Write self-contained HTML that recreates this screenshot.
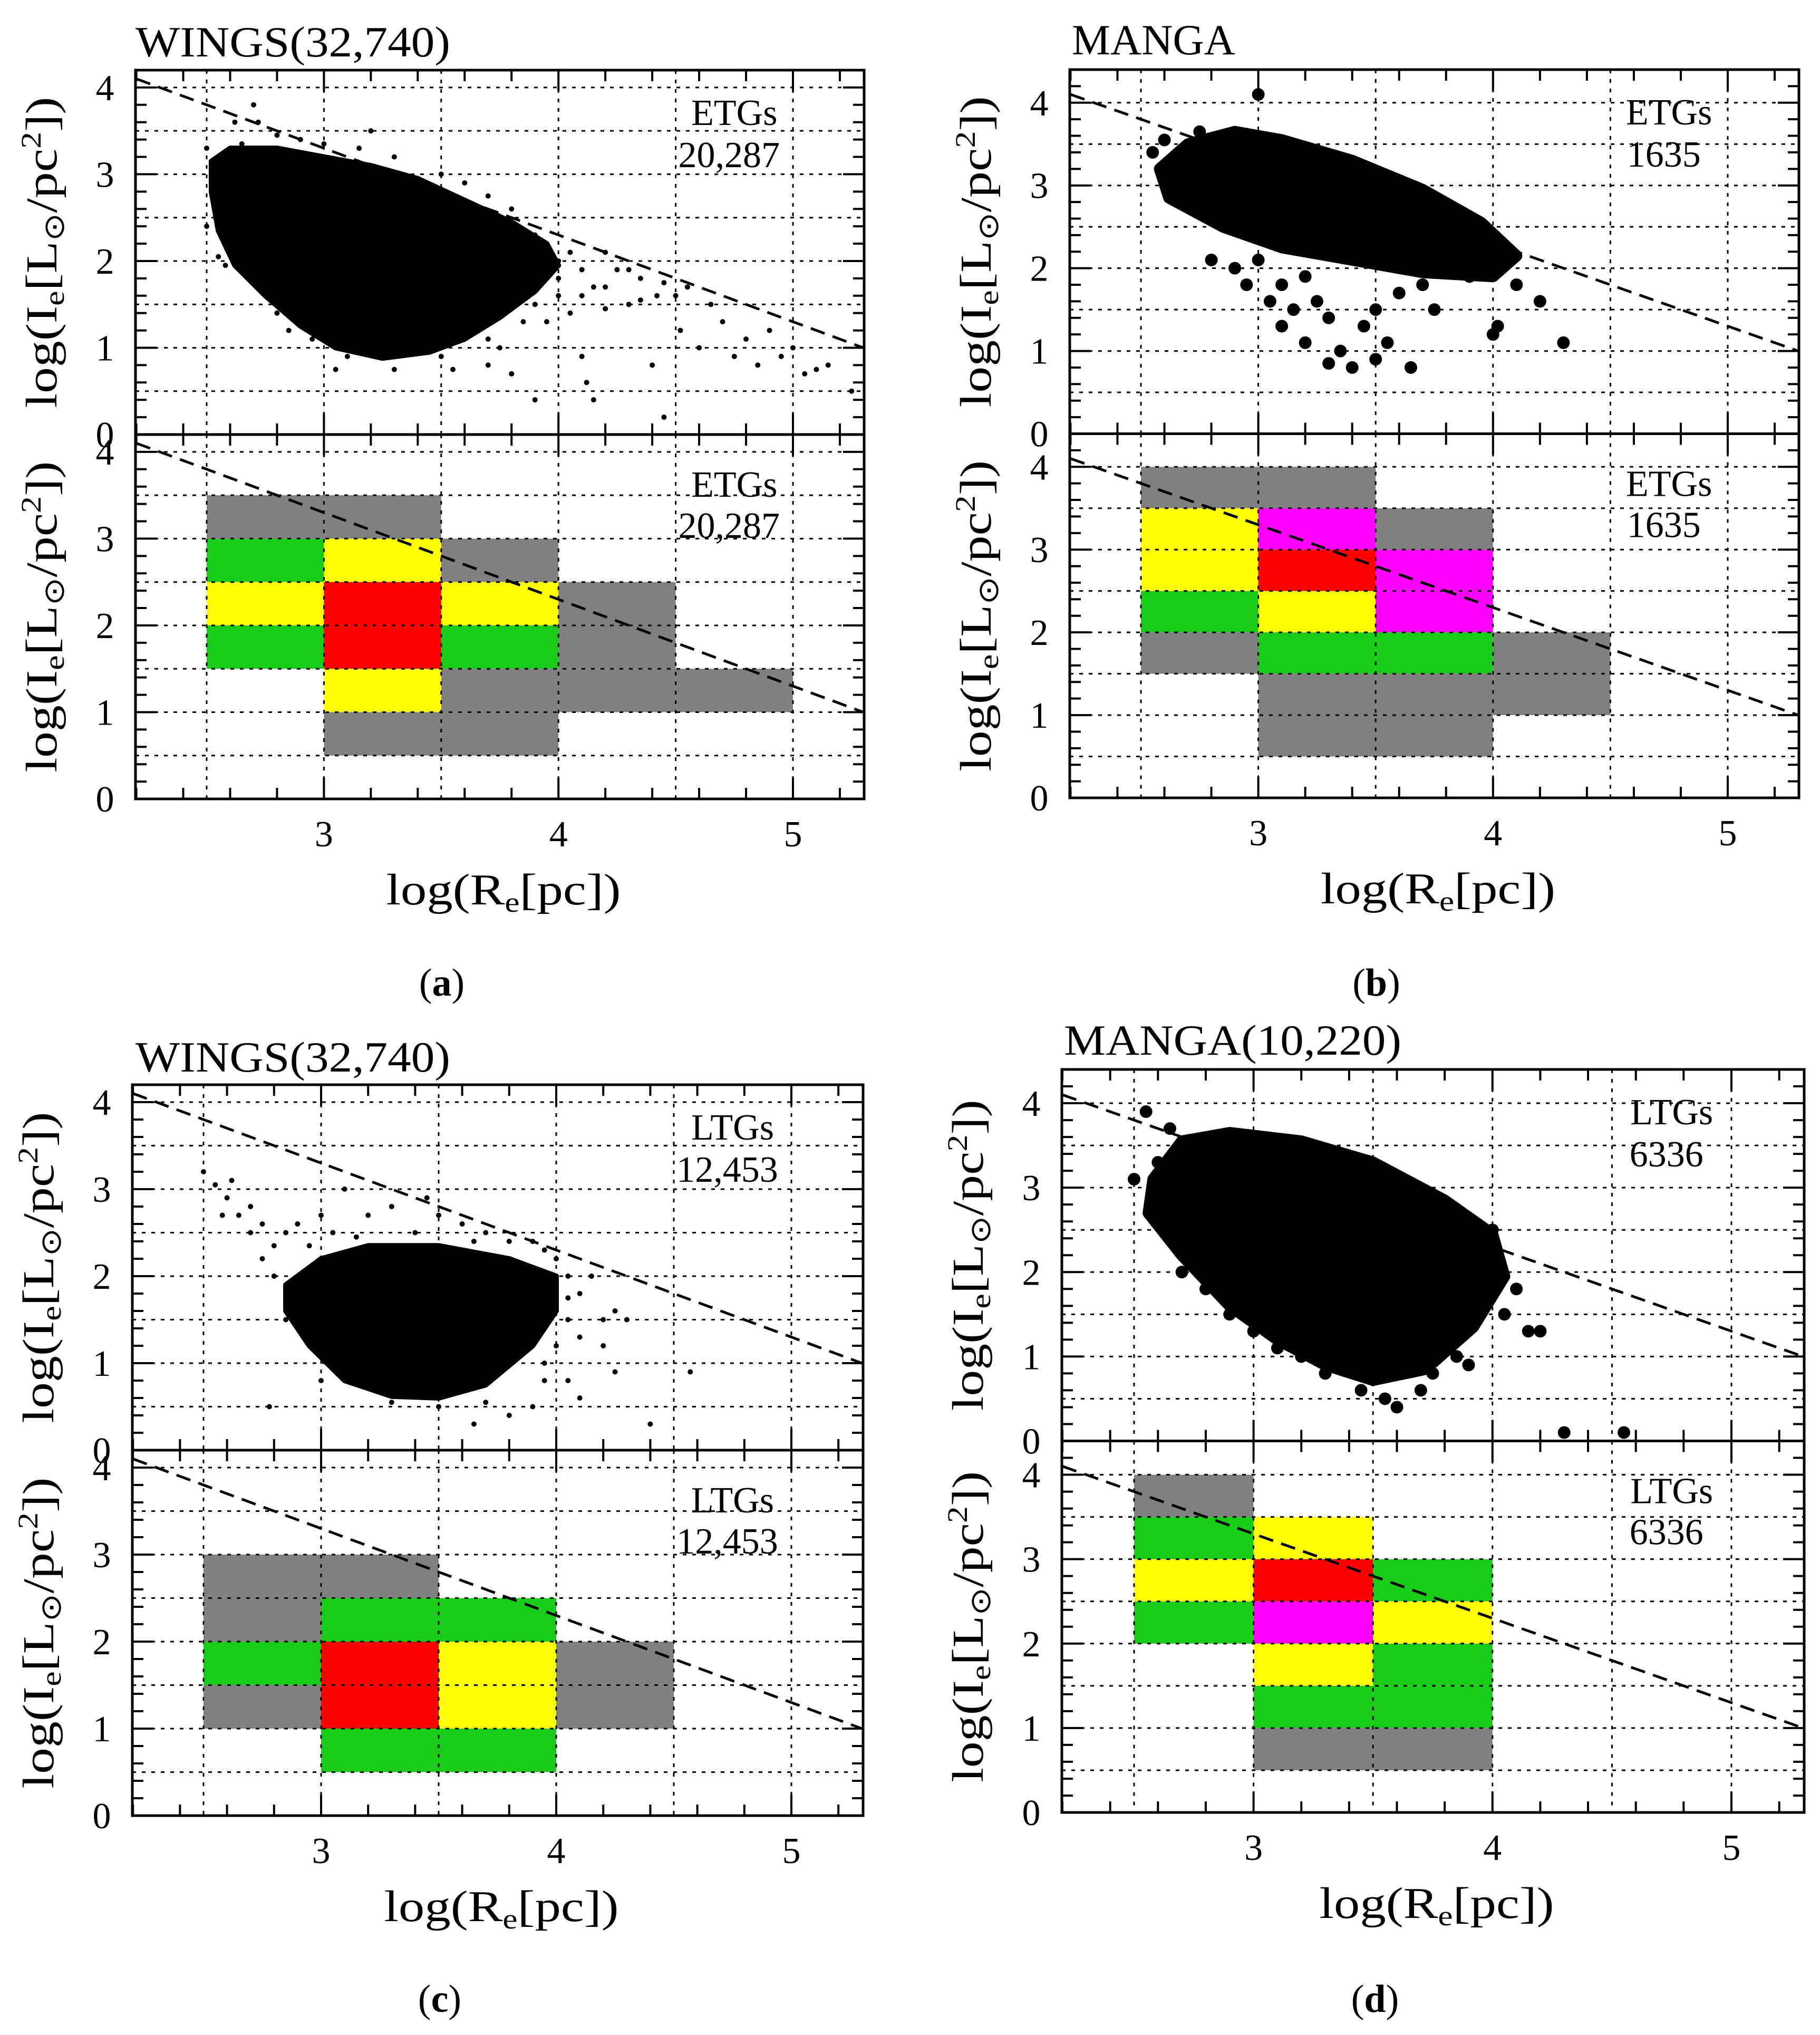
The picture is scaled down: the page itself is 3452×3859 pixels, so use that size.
<!DOCTYPE html>
<html><head><meta charset="utf-8">
<style>
html,body{margin:0;padding:0;background:#fff;}
svg{display:block;font-family:"Liberation Serif",serif;}
</style></head>
<body>
<svg id="fig" width="3452" height="3859" viewBox="0 0 3452 3859" xmlns="http://www.w3.org/2000/svg"></svg>
<script>
// ---------- data ----------
const xTicks = [3, 4, 5];
const yTicks = [0, 1, 2, 3, 4];
const fitLine = [[2.2, 4.1], [5.3, 1.0]];

const titles = ["WINGS(32,740)", "MANGA", "WINGS(32,740)", "MANGA(10,220)"];
const captions = ["a", "b", "c", "d"];
const classLabels = ["ETGs", "ETGs", "LTGs", "LTGs"];
const countLabels = ["20,287", "1635", "12,453", "6336"];

// dense cloud outlines (data coords)
const coreA = [[2.52,3.15],[2.6,3.3],[2.8,3.3],[3.0,3.2],[3.2,3.1],[3.4,2.95],[3.6,2.7],[3.8,2.45],[3.95,2.2],[4.0,1.95],[3.9,1.65],[3.75,1.35],[3.6,1.1],[3.45,0.95],[3.25,0.88],[3.05,1.0],[2.9,1.25],[2.75,1.6],[2.62,1.95],[2.55,2.35],[2.52,2.8]];
const coreB = [[2.58,3.2],[2.7,3.5],[2.9,3.65],[3.1,3.55],[3.4,3.3],[3.7,2.95],[3.95,2.55],[4.1,2.15],[4.0,1.9],[3.7,1.95],[3.4,2.1],[3.1,2.25],[2.85,2.5],[2.62,2.85]];
const coreC = [[2.85,1.9],[3.0,2.2],[3.2,2.35],[3.5,2.35],[3.8,2.2],[4.0,2.0],[4.0,1.6],[3.9,1.2],[3.7,0.75],[3.5,0.6],[3.3,0.62],[3.1,0.8],[2.95,1.2],[2.85,1.6]];
const coreD = [[2.58,3.1],[2.7,3.55],[2.9,3.65],[3.2,3.55],[3.5,3.3],[3.8,2.85],[4.0,2.45],[4.05,1.95],[3.92,1.35],[3.72,0.85],[3.5,0.72],[3.3,0.9],[3.1,1.2],[2.9,1.6],[2.7,2.2],[2.56,2.7]];

const ptsA = [[2.5,3.3],[2.52,3.1],[2.55,2.5],[2.5,2.4],[2.6,3.0],[2.6,2.3],[2.65,3.35],[2.7,3.8],[2.72,3.6],[2.62,3.6],[2.68,2.1],[2.75,1.6],[2.8,1.4],[2.85,1.2],[3.05,0.75],[3.3,0.75],[3.5,0.9],[3.55,0.75],[3.7,0.8],[3.75,1.0],[3.8,0.7],[3.9,0.4],[3.95,1.3],[4.05,1.4],[4.1,0.9],[4.12,0.6],[4.15,0.4],[4.2,1.7],[4.25,1.9],[4.3,1.5],[4.35,1.8],[4.4,0.8],[4.42,1.6],[4.45,0.2],[4.5,1.6],[4.52,1.2],[4.55,1.7],[4.6,1.0],[4.65,1.5],[4.7,1.3],[4.75,0.9],[4.8,1.1],[4.85,0.8],[4.9,1.2],[4.95,0.9],[5.0,1.0],[5.05,0.7],[5.1,0.75],[5.15,0.8],[5.25,0.5],[4.0,2.0],[4.1,1.9],[4.2,2.1],[3.9,2.3],[4.0,1.6],[3.85,1.7],[3.6,2.9],[3.5,3.0],[3.3,3.2],[3.2,3.5],[3.15,3.3],[2.9,3.4],[4.05,2.1],[4.15,1.7],[4.3,1.9],[4.45,1.75],[3.9,1.5],[4.0,1.8],[2.55,2.05],[2.58,1.95],[2.7,1.75],[2.95,1.1],[3.1,0.9],[3.85,1.3],[3.7,1.1],[4.1,1.6],[4.2,1.45],[4.35,1.55],[3.8,2.6],[3.7,2.75],[3.0,3.35],[2.8,3.45]];
const ptsB = [[2.55,3.4],[2.6,3.55],[2.75,3.65],[3.0,4.1],[2.8,2.1],[2.9,2.0],[3.0,2.1],[2.95,1.8],[3.05,1.6],[3.1,1.3],[3.15,1.5],[3.2,1.9],[3.25,1.6],[3.3,1.4],[3.35,1.0],[3.4,0.8],[3.45,1.3],[3.5,0.9],[3.55,1.1],[3.6,1.7],[3.65,0.8],[3.5,1.5],[3.7,1.8],[3.75,1.5],[3.3,0.85],[3.2,1.1],[4.0,1.2],[4.02,1.3],[4.1,1.8],[4.2,1.6],[4.3,1.1],[3.9,1.9],[3.1,1.8]];
const ptsC = [[2.5,3.2],[2.55,3.05],[2.6,2.9],[2.62,3.1],[2.58,2.7],[2.65,2.7],[2.7,2.8],[2.75,2.6],[2.7,2.5],[2.75,2.2],[2.8,2.0],[2.78,0.5],[2.85,2.5],[2.9,2.6],[3.0,2.7],[3.05,2.5],[3.1,3.0],[3.2,2.7],[3.3,2.8],[3.45,2.9],[3.5,2.7],[3.6,2.6],[3.7,2.5],[3.8,2.4],[3.9,2.4],[4.0,2.2],[4.05,2.0],[4.1,1.8],[4.15,2.0],[4.05,1.5],[4.1,1.3],[4.2,1.5],[4.25,1.6],[4.3,1.5],[4.2,1.2],[4.25,0.9],[4.1,0.6],[4.05,0.8],[3.9,0.5],[3.8,0.4],[3.65,0.3],[3.5,0.5],[4.4,0.3],[4.57,0.9],[3.95,1.0],[4.0,1.2],[2.9,1.8],[2.85,1.5],[3.0,0.8],[2.8,2.35],[2.95,2.35],[3.15,2.45],[3.4,2.5],[3.65,2.4],[3.95,2.3],[4.05,1.75],[3.95,0.8],[3.7,0.55],[3.3,0.55],[3.05,1.0]];
const ptsD = [[2.55,3.9],[2.5,3.1],[2.6,3.3],[2.65,3.7],[2.7,2.0],[2.8,1.8],[2.9,1.5],[3.0,1.3],[3.1,1.1],[3.2,1.0],[3.3,0.8],[3.45,0.6],[3.55,0.5],[3.6,0.4],[3.7,0.6],[3.75,0.8],[3.8,1.2],[3.85,1.0],[3.95,1.7],[4.0,2.0],[4.05,1.5],[4.1,1.8],[4.15,1.3],[4.2,1.3],[3.9,2.4],[4.0,2.5],[3.9,0.9],[4.3,0.1],[4.55,0.1]];

// heatmap cells: [x0, y0] lower-left corners (0.5 wide bins)
const cellsGrayA = [[2.5,3],[3,3],[3.5,2.5],[4,2],[4,1.5],[4,1],[4.5,1],[3.5,1],[3,0.5],[3.5,0.5]];
const cellsGreenA = [[2.5,2.5],[2.5,1.5],[3.5,1.5]];
const cellsYellowA = [[3,2.5],[2.5,2],[3.5,2],[3,1]];
const cellsRedA = [[3,2],[3,1.5]];
const cellsMagentaA = [];

const cellsGrayB = [[2.5,3.5],[3,3.5],[3.5,3],[2.5,1.5],[4,1.5],[4,1],[3,1],[3.5,1],[3,0.5],[3.5,0.5]];
const cellsGreenB = [[2.5,2],[3,1.5],[3.5,1.5]];
const cellsYellowB = [[2.5,3],[2.5,2.5],[3,2]];
const cellsRedB = [[3,2.5]];
const cellsMagentaB = [[3,3],[3.5,2.5],[3.5,2]];

const cellsGrayC = [[2.5,2.5],[3,2.5],[2.5,2],[2.5,1],[4,1.5],[4,1]];
const cellsGreenC = [[3,2],[3.5,2],[2.5,1.5],[3,0.5],[3.5,0.5]];
const cellsYellowC = [[3.5,1.5],[3.5,1]];
const cellsRedC = [[3,1.5],[3,1]];
const cellsMagentaC = [];

const cellsGrayD = [[2.5,3.5],[3,0.5],[3.5,0.5]];
const cellsGreenD = [[2.5,3],[2.5,2],[3.5,2.5],[3.5,1.5],[3,1],[3.5,1]];
const cellsYellowD = [[2.5,2.5],[3,3],[3.5,2],[3,1.5]];
const cellsRedD = [[3,2.5]];
const cellsMagentaD = [[3,2]];

// ---------- layout ----------
const NS = "http://www.w3.org/2000/svg";
const svg = document.getElementById("fig");
const panels = [
  {L:257,R:1639,T:133,B:1515,x25:392,x5:1504,ymax:4.2,core:coreA,pts:ptsA,r:5,big:false,
   cells:[cellsGrayA,cellsGreenA,cellsYellowA,cellsRedA,cellsMagentaA],tb:107,tx:257,tw:597,cap:1863},
  {L:2029,R:3412,T:132,B:1513,x25:2164,x5:3277,ymax:4.4,core:coreB,pts:ptsB,r:12,big:true,
   cells:[cellsGrayB,cellsGreenB,cellsYellowB,cellsRedB,cellsMagentaB],tb:103,tx:2033,tw:0,cap:1863},
  {L:251,R:1637,T:2057,B:3443,x25:386,x5:1501,ymax:4.2,core:coreC,pts:ptsC,r:5,big:false,
   cells:[cellsGrayC,cellsGreenC,cellsYellowC,cellsRedC,cellsMagentaC],tb:2032,tx:257,tw:597,cap:3790},
  {L:2014,R:3422,T:2028,B:3437,x25:2151,x5:3284,ymax:4.4,core:coreD,pts:ptsD,r:12,big:true,
   cells:[cellsGrayD,cellsGreenD,cellsYellowD,cellsRedD,cellsMagentaD],tb:2000,tx:2018,tw:640,cap:3790}
];
const cellColors = ["#808080","#19cc19","#ffff00","#ff0000","#ff00ff"];
const cellNames = ["gray","green","yellow","red","magenta"];

function el(tag, attrs, parent){
  const e = document.createElementNS(NS, tag);
  for (const k in attrs) e.setAttribute(k, attrs[k]);
  (parent||svg).appendChild(e);
  return e;
}

panels.forEach((p, i) => {
  const g = el("g", {});
  
  
  const sx = (p.x5 - p.x25) / 2.5;
  const X = v => p.x25 + (v - 2.5) * sx;
  const xmin = 2.5 - (p.x25 - p.L) / sx, xmax = 2.5 + (p.R - p.x25) / sx;
  const H = (p.B - p.T) / 2;
  const sy = H / p.ymax;
  const tops = [p.T, p.T + H];

  tops.forEach((top, k) => {
    const Y = v => top + H - v * sy;
    const sub = el("g", {}, g);
    
    
    if (k === 1) {
      p.cells.forEach((arr, ci) => {
        arr.forEach(c => {
          const r = el("rect", {x:X(c[0]), y:Y(c[1]+0.5), width:X(c[0]+0.5)-X(c[0]), height:Y(c[1])-Y(c[1]+0.5), fill:cellColors[ci]}, sub);
          
          
        });
      });
    }
    for (let gx = 2.5; gx <= 5.01; gx += 0.5) {
      const l = el("line", {x1:X(gx), x2:X(gx), y1:top, y2:top+H, stroke:"#000", "stroke-width":3, "stroke-dasharray":"7 11"}, sub);
      
      
    }
    for (let gy = 0.5; gy <= 4.01; gy += 0.5) {
      const l = el("line", {x1:p.L, x2:p.R, y1:Y(gy), y2:Y(gy), stroke:"#000", "stroke-width":3, "stroke-dasharray":"7 11"}, sub);
      
      
    }
    if (k === 0) {
      const d = p.core.map((c, j) => (j ? "L" : "M") + X(c[0]).toFixed(1) + " " + Y(c[1]).toFixed(1)).join(" ") + "Z";
      const core = el("path", {d:d, fill:"#000", stroke:"#000", "stroke-width":p.big ? 22 : 10, "stroke-linejoin":"round"}, sub);
      
      
      p.pts.forEach(c => {
        const pt = el("circle", {cx:X(c[0]), cy:Y(c[1]), r:p.r, fill:"#000"}, sub);
        
        
      });
    }
    const fl = el("line", {x1:X(fitLine[0][0]), y1:Y(fitLine[0][1]), x2:X(fitLine[1][0]), y2:Y(fitLine[1][1]), stroke:"#000", "stroke-width":5, "stroke-dasharray":"28 16"}, sub);
    
    
    for (let t = 2.2; t <= xmax + 0.001; t += 0.2) {
      const v = Math.round(t * 10) / 10;
      if (v < xmin) continue;
      const len = Math.abs(v - Math.round(v)) < 0.01 ? 40 : 21;
      el("line", {x1:X(v), x2:X(v), y1:top, y2:top+len, stroke:"#000", "stroke-width":4}, sub);
      el("line", {x1:X(v), x2:X(v), y1:top+H, y2:top+H-len, stroke:"#000", "stroke-width":4}, sub);
    }
    for (let t = 0.2; t <= p.ymax + 0.001; t += 0.2) {
      const v = Math.round(t * 10) / 10;
      const len = Math.abs(v - Math.round(v)) < 0.01 ? 40 : 21;
      el("line", {x1:p.L, x2:p.L+len, y1:Y(v), y2:Y(v), stroke:"#000", "stroke-width":4}, sub);
      el("line", {x1:p.R, x2:p.R-len, y1:Y(v), y2:Y(v), stroke:"#000", "stroke-width":4}, sub);
    }
    yTicks.forEach(v => {
      const t = el("text", {x:p.L-58, y:Y(v)+24, "font-size":70, "text-anchor":"middle"}, sub);
      t.textContent = v;
      
      
    });
    const cy = top + H / 2, cx = p.L - 150;
    const yt = el("text", {x:cx, y:cy, "font-size":84, "text-anchor":"middle", transform:`rotate(-90 ${cx} ${cy})`, textLength:590, lengthAdjust:"spacingAndGlyphs"}, sub);
    yt.innerHTML = 'log(I<tspan font-size="54" dy="14">e</tspan><tspan dy="-14">[L</tspan><tspan font-size="54" dy="14">⊙</tspan><tspan dy="-14">/pc</tspan><tspan font-size="54" dy="-30">2</tspan><tspan dy="30">])</tspan>';
    
    
    const l1 = el("text", {x:(p.x5+X(4.5))/2, y:top + (k ? 118 : 104), "font-size":70, "text-anchor":"middle"}, sub);
    l1.textContent = classLabels[i];
    
    
    const l2 = el("text", {x:(p.x5+X(4.5))/2-10, y:top + (k ? 196 : 184), "font-size":70, "text-anchor":"middle"}, sub);
    l2.textContent = countLabels[i];
    
    
  });

  const fr = el("rect", {x:p.L, y:p.T, width:p.R-p.L, height:p.B-p.T, fill:"none", stroke:"#000", "stroke-width":5}, g);
  
  
  const mid = el("line", {x1:p.L, x2:p.R, y1:p.T+H, y2:p.T+H, stroke:"#000", "stroke-width":5}, g);
  
  

  xTicks.forEach(v => {
    const t = el("text", {x:X(v), y:p.B+90, "font-size":70, "text-anchor":"middle"}, g);
    t.textContent = v;
    
    
  });
  const xt = el("text", {x:(p.L+p.R)/2 + 7, y:p.B+200, "font-size":84, "text-anchor":"middle", textLength:445, lengthAdjust:"spacingAndGlyphs"}, g);
  xt.innerHTML = 'log(R<tspan font-size="54" dy="14">e</tspan><tspan dy="-14">[pc])</tspan>';
  
  
  const tt = el("text", {x:p.tx, y:p.tb, "font-size":82}, g);
  if (p.tw) { tt.setAttribute("textLength", p.tw); tt.setAttribute("lengthAdjust", "spacingAndGlyphs"); }
  tt.textContent = titles[i];
  
  
  const cp = el("text", {x:(p.L+p.R)/2 - 110, y:p.cap + 25, "font-size":74, "text-anchor":"middle"}, g);
  cp.innerHTML = '(<tspan font-weight="bold">' + captions[i] + '</tspan>)';
  
  
});
</script>
</body></html>
